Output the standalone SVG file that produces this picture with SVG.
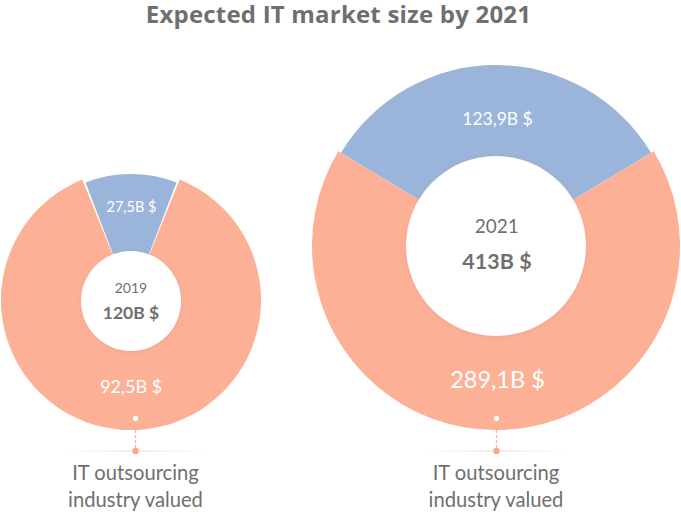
<svg xmlns="http://www.w3.org/2000/svg" width="681" height="514" viewBox="0 0 681 514">
<style>
text{font-family:Lato,"Open Sans","Liberation Sans",sans-serif;text-anchor:middle}
.title{font-family:"Open Sans",Lato,"Liberation Sans",sans-serif;font-weight:bold;letter-spacing:0.2px}
.salmon{fill:#FCB197}
.blue{fill:#9BB4D9}
.hole{fill:#ffffff;filter:url(#sh)}
.w{fill:#ffffff}
.g{fill:#6f6f6f}
.b{font-weight:bold}
.dash{stroke:#F9B29A;stroke-width:1.2;stroke-dasharray:3 2;fill:none}
.dotw{fill:#ffffff}
.dots{fill:#F7A98E}
</style>
<defs>
<filter id="sh" x="-20%" y="-20%" width="140%" height="140%">
<feDropShadow dx="0" dy="1" stdDeviation="2" flood-color="#c0786a" flood-opacity="0.25"/>
</filter>
<linearGradient id="hl" x1="0" x2="1" y1="0" y2="0">
<stop offset="0" stop-color="#FCD3C6" stop-opacity="0"/>
<stop offset="0.5" stop-color="#FCD3C6" stop-opacity="1"/>
<stop offset="1" stop-color="#FCD3C6" stop-opacity="0"/>
</linearGradient>
</defs>
<text x="338.5" y="22.5" class="g title" font-size="24">Expected IT market size by 2021</text>

<g id="donut-2019">
<path class="salmon" d="M131,300 L179.7,179.5 A130,130 0 1 1 82.3,179.5 Z"/>
<path class="blue" d="M131,301 L85.5,182.4 A127,127 0 0 1 176.5,182.4 Z"/>
<circle class="hole" cx="131" cy="301" r="50"/>
<text x="131.5" y="211.5" class="w" font-size="14.5">27,5B $</text>
<text x="131" y="293.3" class="g" font-size="14">2019</text>
<text x="131" y="319.3" class="g b" font-size="17.5">120B $</text>
<text x="131.2" y="393.3" class="w" font-size="18">92,5B $</text>
</g>

<g id="donut-2021">
<path class="salmon" d="M496,246 L653.7,151.2 A184,184 0 1 1 338.3,151.2 Z"/>
<path class="blue" d="M496,246 L340.9,152.8 A181,181 0 0 1 651.1,152.8 Z"/>
<circle class="hole" cx="496" cy="246" r="90"/>
<text x="497.5" y="125" class="w" font-size="17.5">123,9B $</text>
<text x="496.7" y="232.7" class="g" font-size="19">2021</text>
<text x="497" y="269.3" class="g b" font-size="21.5">413B $</text>
<text x="497.5" y="388.3" class="w" font-size="23.5">289,1B $</text>
</g>

<g id="connectors">
<rect x="63" y="450.5" width="147" height="1" fill="url(#hl)"/>
<line class="dash" x1="135.5" y1="420" x2="135.5" y2="449"/>
<circle class="dotw" cx="135.5" cy="418.3" r="2.6"/>
<circle class="dots" cx="135.5" cy="451" r="3.2"/>
<rect x="423" y="450.5" width="147" height="1" fill="url(#hl)"/>
<line class="dash" x1="496.5" y1="420" x2="496.5" y2="449"/>
<circle class="dotw" cx="496.5" cy="418.3" r="2.6"/>
<circle class="dots" cx="496.5" cy="451" r="3.2"/>
</g>

<g id="label-2019">
<text x="135.5" y="480" class="g" font-size="20.2">IT outsourcing</text>
<text x="135.5" y="506.5" class="g" font-size="20.2">industry valued</text>
</g>
<g id="label-2021">
<text x="496" y="480" class="g" font-size="20.2">IT outsourcing</text>
<text x="496" y="506.5" class="g" font-size="20.2">industry valued</text>
</g>
</svg>
